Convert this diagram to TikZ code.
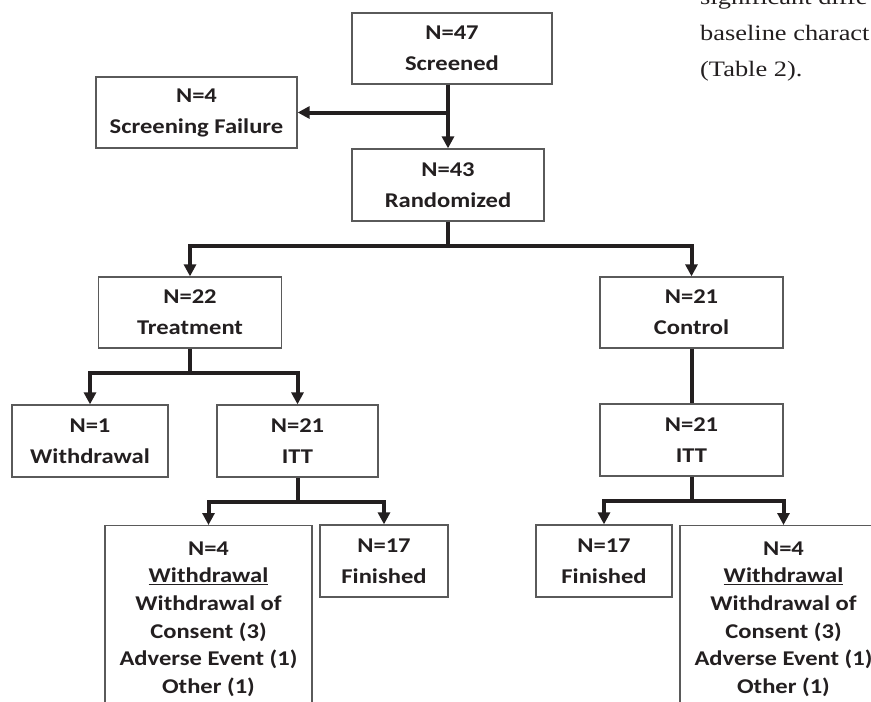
\documentclass[tikz,border=0pt]{standalone}
\usepackage{fontspec}
\newfontfamily\flowfont{Carlito}[FakeStretch=1.17]
\newfontfamily\pagefont{Liberation Serif}[FakeStretch=1.2]
\usepackage{tikz}
\usetikzlibrary{arrows.meta,positioning}
\definecolor{ink}{HTML}{231F20}
\definecolor{frame}{HTML}{5A5A5A}

\begin{document}
\begin{tikzpicture}
[x=1pt,y=-1pt,
 box/.style={draw=frame,line width=1.3pt,fill=white,text=ink,align=center,inner sep=0pt,
   font=\flowfont\bfseries\fontsize{21}{31}\selectfont},
 tallbox/.style={box,anchor=north,minimum width=207pt,inner ysep=16pt,
   font=\flowfont\bfseries\fontsize{21}{27.6}\selectfont},
 arr/.style={draw=ink,line width=4pt,-{Triangle[width=12pt,length=12pt]}},
 link/.style={draw=ink,line width=4pt},
 pagetext/.style={text=ink,align=left,inner sep=0pt,anchor=base west,
   font=\pagefont\fontsize{22}{35.8}\selectfont}]
\useasboundingbox (0,0) rectangle (871,702);
\clip (0,0) rectangle (871,702);

\node[pagetext] (note) at (700,76.5) {significant diffe\\baseline charact\\(Table 2).};

\node[box,minimum width=200pt,minimum height=71pt] (screened) at (452,48.5) {N=47\\Screened};
\node[box,minimum width=201pt,minimum height=71pt] (fail) at (196.5,112.5) {N=4\\Screening Failure};
\node[box,minimum width=192pt,minimum height=72pt] (rand) at (448,185) {N=43\\Randomized};
\node[box,minimum width=183pt,minimum height=71pt] (treat) at (190,312.5) {N=22\\Treatment};
\node[box,minimum width=183pt,minimum height=71pt] (ctrl) at (691.5,312.5) {N=21\\Control};
\node[box,minimum width=156pt,minimum height=72pt] (wdone) at (90,441) {N=1\\Withdrawal};
\node[box,minimum width=161pt,minimum height=72pt] (ittT) at (297.5,441) {N=21\\ITT};
\node[box,minimum width=183pt,minimum height=72pt] (ittC) at (691.5,440) {N=21\\ITT};
\node[box,minimum width=128pt,minimum height=72pt] (finT) at (384,561) {N=17\\Finished};
\node[box,minimum width=136pt,minimum height=72pt] (finC) at (604,561) {N=17\\Finished};
\node[tallbox] (wdT) at (208.5,525) {N=4\\\underline{Withdrawal}\\Withdrawal of\\Consent (3)\\Adverse Event (1)\\Other (1)};
\node[tallbox] (wdC) at (783.5,525) {N=4\\\underline{Withdrawal}\\Withdrawal of\\Consent (3)\\Adverse Event (1)\\Other (1)};

% screening
\draw [arr] (screened.south -| rand.north) -- (rand.north);
\draw [arr] (screened.south -| rand.north) |- (fail.east);
% randomisation
\draw [link] (rand.south) -- ++(0,24) coordinate (split);
\draw [arr] (split) -| (treat.north);
\draw [arr] (split) -| (ctrl.north);
% treatment arm
\draw [link] (treat.south) -- ++(0,24) coordinate (splitT);
\draw [arr] (splitT) -| (wdone.north);
\draw [arr] (splitT) -| (ittT.north);
\draw [link] (ittT.south) -- ++(0,24) coordinate (splitI);
\draw [arr] (splitI) -| (wdT.north);
\draw [arr] (splitI) -| (finT.north);
% control arm
\draw [link] (ctrl.south) -- (ittC.north);
\draw [link] (ittC.south) -- ++(0,24) coordinate (splitC);
\draw [arr] (splitC) -| (finC.north);
\draw [arr] (splitC) -| (wdC.north);
\end{tikzpicture}
\end{document}
